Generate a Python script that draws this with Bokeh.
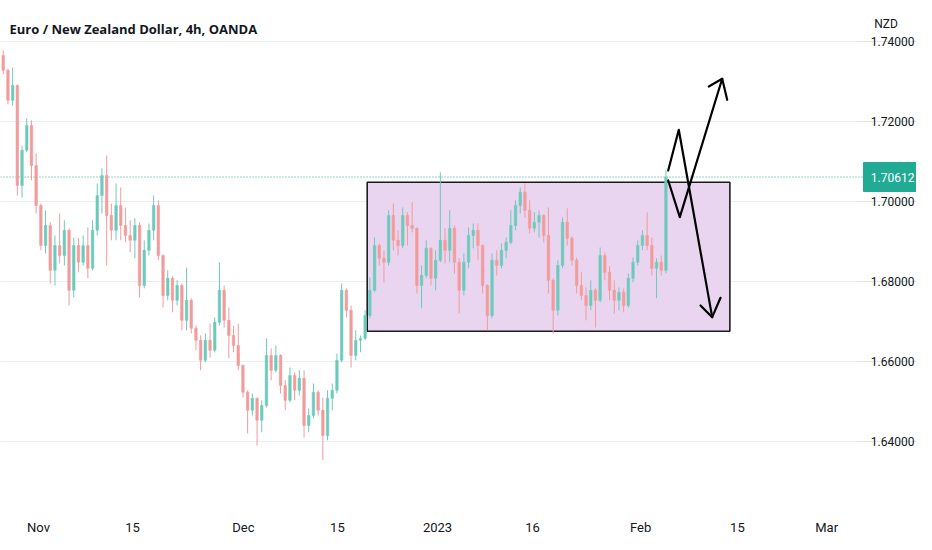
from bokeh.plotting import figure
from bokeh.models import Range1d, FixedTicker, ColumnDataSource
from bokeh.core.properties import value
from bokeh.embed import file_html
from bokeh.resources import INLINE

# ---- data (EUR/NZD, 12h bars) ----
first_open = 1.7365
close = [
    1.7328, 1.7253, 1.7290, 1.7040, 1.7128, 1.7190, 1.7090, 1.6990, 1.6890, 1.6940,
    1.6828, 1.6890, 1.6865, 1.6928, 1.6778, 1.6890, 1.6848, 1.6890, 1.6833, 1.6928,
    1.7015, 1.7065, 1.6965, 1.6928, 1.6990, 1.6940, 1.6915, 1.6903, 1.6940, 1.6790,
    1.6878, 1.6928, 1.6990, 1.6865, 1.6765, 1.6808, 1.6753, 1.6790, 1.6703, 1.6753,
    1.6683, 1.6653, 1.6603, 1.6653, 1.6628, 1.6698, 1.6778, 1.6703, 1.6665, 1.6640,
    1.6590, 1.6523, 1.6478, 1.6508, 1.6453, 1.6490, 1.6615, 1.6578, 1.6615, 1.6540,
    1.6503, 1.6565, 1.6528, 1.6558, 1.6440, 1.6465, 1.6523, 1.6478, 1.6415, 1.6508,
    1.6528, 1.6603, 1.6778, 1.6728, 1.6615, 1.6653, 1.6658, 1.6715, 1.6778, 1.6890,
    1.6858, 1.6848, 1.6965, 1.6903, 1.6890, 1.6965, 1.6940, 1.6933, 1.6790, 1.6815,
    1.6883, 1.6808, 1.6853, 1.6903, 1.6878, 1.6933, 1.6848, 1.6778, 1.6848, 1.6915,
    1.6928, 1.6890, 1.6790, 1.6715, 1.6853, 1.6840, 1.6878, 1.6898, 1.6940, 1.6990,
    1.7023, 1.6978, 1.6933, 1.6948, 1.6965, 1.6915, 1.6803, 1.6728, 1.6840, 1.6948,
    1.6908, 1.6853, 1.6790, 1.6765, 1.6740, 1.6778, 1.6753, 1.6865, 1.6823, 1.6778,
    1.6753, 1.6773, 1.6740, 1.6808, 1.6848, 1.6890, 1.6915, 1.6890, 1.6833, 1.6848,
    1.6828, 1.70612,
]
high = [
    1.7378, 1.7332, 1.7335, 1.7292, 1.7140, 1.7208, 1.7203, 1.7120, 1.6995, 1.6978,
    1.6948, 1.6915, 1.6970, 1.6953, 1.6933, 1.6910, 1.6908, 1.6915, 1.6935, 1.6953,
    1.7045, 1.7083, 1.7115, 1.6995, 1.7045, 1.7035, 1.6985, 1.6953, 1.6958, 1.6948,
    1.6903, 1.6945, 1.7015, 1.7003, 1.6868, 1.6828, 1.6813, 1.6803, 1.6795, 1.6835,
    1.6758, 1.6690, 1.6665, 1.6670, 1.6695, 1.6710, 1.6848, 1.6790, 1.6735, 1.6690,
    1.6695, 1.6593, 1.6528, 1.6520, 1.6510, 1.6503, 1.6658, 1.6633, 1.6640, 1.6618,
    1.6553, 1.6585, 1.6573, 1.6578, 1.6578, 1.6483, 1.6545, 1.6528, 1.6510, 1.6528,
    1.6545, 1.6620, 1.6795, 1.6783, 1.6740, 1.6678, 1.6665, 1.6728, 1.6810, 1.6910,
    1.6895, 1.6878, 1.6978, 1.6995, 1.6928, 1.6985, 1.6973, 1.6998, 1.6935, 1.6840,
    1.6903, 1.6885, 1.6878, 1.7073, 1.6933, 1.6978, 1.6940, 1.6858, 1.6870, 1.6935,
    1.6945, 1.6945, 1.6893, 1.6793, 1.6870, 1.6878, 1.6895, 1.6910, 1.6978, 1.7003,
    1.7035, 1.7045, 1.7003, 1.6973, 1.6978, 1.6968, 1.6985, 1.6808, 1.6853, 1.6960,
    1.6983, 1.6913, 1.6860, 1.6823, 1.6785, 1.6803, 1.6783, 1.6885, 1.6873, 1.6838,
    1.6803, 1.6785, 1.6783, 1.6820, 1.6860, 1.6903, 1.6928, 1.6973, 1.6910, 1.6858,
    1.6865, 1.7078,
]
low = [
    1.7318, 1.7243, 1.7240, 1.7015, 1.7010, 1.7123, 1.7053, 1.6970, 1.6878, 1.6870,
    1.6795, 1.6790, 1.6845, 1.6840, 1.6740, 1.6760, 1.6823, 1.6840, 1.6808, 1.6828,
    1.6915, 1.6970, 1.6840, 1.6903, 1.6903, 1.6903, 1.6898, 1.6873, 1.6858, 1.6760,
    1.6783, 1.6865, 1.6903, 1.6853, 1.6735, 1.6753, 1.6723, 1.6740, 1.6678, 1.6678,
    1.6670, 1.6628, 1.6578, 1.6598, 1.6610, 1.6623, 1.6690, 1.6685, 1.6608, 1.6623,
    1.6578, 1.6510, 1.6420, 1.6465, 1.6390, 1.6423, 1.6485, 1.6553, 1.6573, 1.6520,
    1.6478, 1.6498, 1.6503, 1.6515, 1.6410, 1.6423, 1.6458, 1.6465, 1.6353, 1.6403,
    1.6478, 1.6520, 1.6598, 1.6710, 1.6585, 1.6603, 1.6623, 1.6653, 1.6708, 1.6773,
    1.6840, 1.6798, 1.6840, 1.6878, 1.6865, 1.6883, 1.6890, 1.6923, 1.6770, 1.6733,
    1.6808, 1.6790, 1.6778, 1.6848, 1.6845, 1.6848, 1.6820, 1.6720, 1.6765, 1.6833,
    1.6883, 1.6853, 1.6770, 1.6678, 1.6708, 1.6815, 1.6833, 1.6858, 1.6893, 1.6928,
    1.6970, 1.6960, 1.6920, 1.6923, 1.6910, 1.6898, 1.6770, 1.6670, 1.6715, 1.6833,
    1.6890, 1.6840, 1.6770, 1.6753, 1.6703, 1.6728, 1.6685, 1.6748, 1.6803, 1.6753,
    1.6720, 1.6728, 1.6723, 1.6735, 1.6798, 1.6840, 1.6878, 1.6878, 1.6815, 1.6758,
    1.6815, 1.6820,
]
last_price = 1.70612

x_tick_pos = [7.5, 27.5, 51.1, 71.1, 92.4, 112.6, 135.6, 156.2, 175.2]
x_tick_labels = ["Nov", "15", "Dec", "15", "2023", "16", "Feb", "15", "Mar"]
y_ticks = [1.64, 1.66, 1.68, 1.70, 1.72, 1.74]
y_tick_labels = ["1.64000", "1.66000", "1.68000", "1.70000", "1.72000", "1.74000"]

# drawing annotations (bar index, price)
range_box = dict(left=77.44, right=154.6, top=1.70483, bottom=1.66757)
bear_x = [141.48, 143.73, 150.84]
bear_y = [1.70775, 1.71793, 1.67108]
bear_head_x = [148.35, 150.84, 152.61]
bear_head_y = [1.67400, 1.67108, 1.67593]
bull_x = [141.48, 143.95, 152.97]
bull_y = [1.70525, 1.69608, 1.73068]
bull_head_x = [150.12, 152.97, 154.03]
bull_head_y = [1.72875, 1.73068, 1.72543]

# ---- layout constants (bar-index units) ----
X0, X1 = -0.585, 194.31          # full frame
PANE_R = 182.4                   # right end of the price pane
SCALE_X = 184.6                  # x where price-scale labels start
BADGE_L, BADGE_R = 183.03, 196.6
BADGE_T, BADGE_B = 1.70975, 1.70250

# ---- build ----
opens = [first_open] + close[:-1]
up = dict(x=[], h=[], l=[], top=[], bot=[])
dn = dict(x=[], h=[], l=[], top=[], bot=[])
for i in range(len(close)):
    d = up if close[i] >= opens[i] else dn
    d["x"].append(i); d["h"].append(high[i]); d["l"].append(low[i])
    d["top"].append(max(opens[i], close[i])); d["bot"].append(min(opens[i], close[i]))

UP = "#6ccabd"
DN = "#f29b9b"
TXT = "#131722"
TEAL = "#22ab94"

p = figure(frame_width=916, frame_height=502,
           x_range=Range1d(X0, X1), y_range=Range1d(1.62475, 1.75025),
           y_axis_location=None, output_backend="svg", toolbar_location=None,
           min_border_left=0, min_border_top=0, min_border_right=0, min_border_bottom=32)
p.outline_line_color = None
p.background_fill_color = "white"
p.border_fill_color = "white"

# time axis
p.xaxis.ticker = FixedTicker(ticks=x_tick_pos)
p.xaxis.major_label_overrides = dict(zip(x_tick_pos, x_tick_labels))
p.xaxis.axis_line_color = None
p.xaxis.major_tick_line_color = None
p.xaxis.minor_tick_line_color = None
p.xaxis.major_label_text_font = "Roboto"
p.xaxis.major_label_text_font_size = "13px"
p.xaxis.major_label_text_color = TXT
p.xaxis.major_label_standoff = 11
p.xgrid.visible = False

# price grid + price scale
p.segment(x0=[X0] * len(y_ticks), x1=[PANE_R] * len(y_ticks), y0=y_ticks, y1=y_ticks,
          line_color="#eceef2", line_width=1)
p.text(x=[SCALE_X] * len(y_ticks), y=y_ticks, text=y_tick_labels,
       text_font=value("Roboto"), text_font_size="12px", text_color=TXT,
       text_align="left", text_baseline="middle")
p.text(x=[185.3], y=[1.74437], text=["NZD"], text_font=value("Roboto"),
       text_font_size="12px", text_color=TXT, text_align="left", text_baseline="middle")

# range rectangle
p.quad(left=[range_box["left"]], right=[range_box["right"]],
       top=[range_box["top"]], bottom=[range_box["bottom"]],
       fill_color="#e9d5ef", line_color="#1c1c1c", line_width=1.6)

# last price dotted line + badge
p.line([X0, BADGE_L], [last_price, last_price], line_color=TEAL,
       line_width=1, line_dash="1 2")
p.quad(left=[BADGE_L], right=[BADGE_R], top=[BADGE_T], bottom=[BADGE_B],
       fill_color=TEAL, line_color=TEAL)
p.text(x=[SCALE_X], y=[last_price], text=["%.5f" % last_price], text_font=value("Roboto"),
       text_font_size="12px", text_color="white", text_align="left", text_baseline="middle")

# candles
for d, col in ((up, UP), (dn, DN)):
    src = ColumnDataSource(d)
    p.segment(x0="x", y0="l", x1="x", y1="h", source=src, line_color=col, line_width=1)
    p.vbar(x="x", width=0.55, top="top", bottom="bot", source=src,
           fill_color=col, line_color=col, line_width=0.5)

# arrows
for xs, ys in ((bear_x, bear_y), (bear_head_x, bear_head_y),
               (bull_x, bull_y), (bull_head_x, bull_head_y)):
    p.line(xs, ys, line_color="black", line_width=2.2, line_join="round", line_cap="round")

# title
p.text(x=[1.33], y=[1.74325], text=["Euro / New Zealand Dollar, 4h, OANDA"],
       text_font=value("Open Sans"), text_font_style="bold", text_font_size="13px",
       text_color=TXT, text_align="left", text_baseline="middle")

open("out.html", "w").write(file_html(p, INLINE))
